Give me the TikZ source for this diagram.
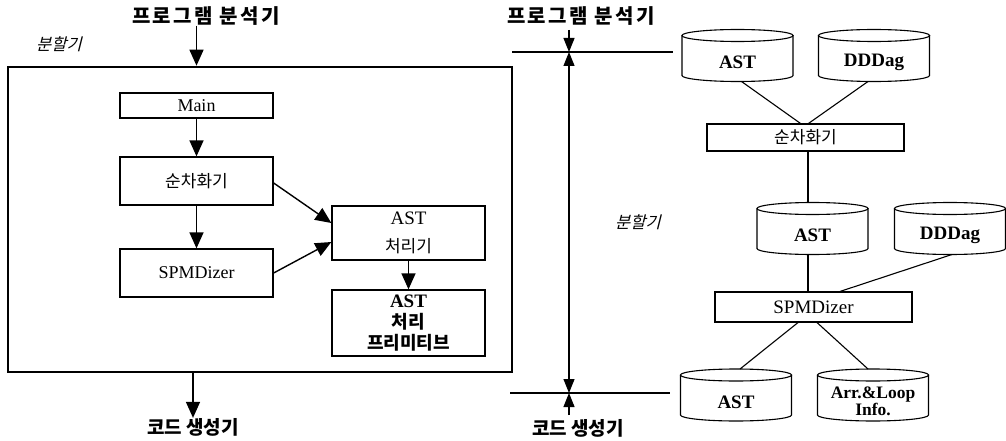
\documentclass[tikz,border=0pt]{standalone}
\usepackage{fontspec}
\setmainfont{Liberation Serif}
\newfontfamily\kr{Noto Sans CJK KR}
\newfontfamily\krsp[LetterSpace=12]{Noto Sans CJK KR}
\newfontfamily\krit[FakeSlant=0.25]{Noto Sans CJK KR}
\usetikzlibrary{arrows.meta,calc}
\newcommand\drawcyl[1]{%
  \draw[cylline] ($(#1.north west)+(0,6)$) -- ($(#1.south west)+(0,-6)$)
    arc[start angle=180,end angle=360,x radius=55.5pt,y radius=6pt]
    -- ($(#1.north east)+(0,6)$);
  \draw[cylline] ($(#1.north)+(0,6)$) ellipse[x radius=55.5pt,y radius=6pt];}
\begin{document}
\begin{tikzpicture}[x=1pt,y=-1pt,
  lbox/.style={draw,line width=1.3pt,minimum width=153pt,inner sep=0pt,align=center,
    font=\fontsize{18}{27}\selectfont},
  rbox/.style={draw,line width=1.1pt,minimum width=197pt,inner sep=0pt,align=center,
    font=\fontsize{19}{22}\selectfont},
  krt/.style={font=\fontsize{17}{20}\selectfont\kr},
  cyl/.style={minimum width=111pt,minimum height=52pt,inner sep=0pt,outer sep=0pt},
  cylline/.style={line width=1.1pt},
  dbtext/.style={inner sep=0pt,align=center,font=\fontsize{19}{15}\selectfont\bfseries},
  arr/.style={-{Triangle[length=16pt,width=14pt]},line width=1.4pt},
  dimtip/.style={-{Triangle[length=14pt,width=11pt]},line width=1.2pt},
  conn/.style={line width=1.1pt},
  lbl/.style={inner sep=0pt,font=\fontsize{20}{22}\selectfont\krsp\bfseries},
  lbl2/.style={inner sep=0pt,font=\fontsize{19}{22}\selectfont\kr\bfseries},
  itl/.style={inner sep=0pt,font=\fontsize{16.5}{18}\selectfont\krit}]
\useasboundingbox (0,0) rectangle (1006,441);

% ---------- left part ----------
\node[draw,line width=2.6pt,minimum width=504pt,minimum height=305pt,inner sep=0pt] (outer) at (260,219.5) {};
\node[lbl] (pa1) at (206,16) {프로그램 분석기};
\node[lbl2] (cg1) at (193,427) {코드 생성기};
\node[itl] (sp1) at (59,44) {분할기};

\node[lbox,minimum height=25pt] (main) at (196.5,105.5) {Main};
\node[lbox,minimum height=48pt,krt] (seqL) at (196.5,181) {순차화기};
\node[lbox,minimum height=48pt] (spmL) at (196.5,273) {SPMDizer};
\node[lbox,minimum height=54pt,font=\fontsize{19}{28}\selectfont] (astp) at (408.5,233)
  {AST\\{\kr\fontsize{17}{20}\selectfont 처리기}};
\node[lbox,minimum height=66pt,font=\fontsize{19}{21}\selectfont\bfseries] (prim) at (408.5,323)
  {AST\\{\kr\fontsize{18}{21}\selectfont 처리}\\{\kr\fontsize{18}{21}\selectfont 프리미티브}};

\draw[arr] (pa1.south -| main.center) -- (main.center |- outer.north);
\draw[arr] (cg1.north |- outer.south) -- (cg1.north);
\draw[arr] (main) -- (seqL);
\draw[arr] (seqL) -- (spmL);
\draw[arr] ([yshift=-2pt]seqL.east) -- ([yshift=10pt]astp.west);
\draw[arr] (spmL.east) -- ([yshift=-9pt]astp.west);
\draw[arr] (astp) -- (prim);

% ---------- dimension marks ----------
\node[lbl] (pa2) at (581,16) {프로그램 분석기};
\node[lbl2] (cg2) at (578,428) {코드 생성기};
\node[itl] (sp2) at (638,222) {분할기};
\coordinate (htl) at (512,52);
\coordinate (htr) at (673,52);
\coordinate (hbl) at (510,393);
\coordinate (hbr) at (670,393);
\coordinate (vt) at (569,30);
\coordinate (vtop) at (569,52);
\coordinate (vbot) at (569,393);
\coordinate (vb) at (569,415);
\draw[conn] (htl) -- (htr);
\draw[conn] (hbl) -- (hbr);
\draw[dimtip] (vt) -- (vtop);
\draw[dimtip] (vb) -- (vbot);
\draw[{Triangle[length=14pt,width=11pt]}-{Triangle[length=14pt,width=11pt]},line width=1.2pt] (vtop) -- (vbot);

% ---------- right part ----------
\node[cyl] (ast1) at (737.5,55.5) {};
\node[cyl] (dd1) at (874,55.5) {};
\node[cyl] (ast2) at (812.5,228.5) {};
\node[cyl] (dd2) at (950,228.5) {};
\node[cyl] (ast3) at (736,395) {};
\node[cyl] (arr) at (873,395) {};
\drawcyl{ast1}\drawcyl{dd1}\drawcyl{ast2}\drawcyl{dd2}\drawcyl{ast3}\drawcyl{arr}
\node[dbtext] (ast1t) at ([yshift=-7pt]ast1.center) {AST};
\node[dbtext] (dd1t) at ([yshift=-7pt]dd1.center) {DDDag};
\node[dbtext] (ast2t) at ([yshift=-7pt]ast2.center) {AST};
\node[dbtext] (dd2t) at ([yshift=-7pt]dd2.center) {DDDag};
\node[dbtext] (ast3t) at ([yshift=-7pt]ast3.center) {AST};
\node[dbtext,font=\fontsize{17.5}{15}\selectfont\bfseries] (arrt) at ([yshift=-6pt]arr.center) {Arr.\&Loop\\Info.};

\node[rbox,minimum height=27pt,krt] (seqR) at (805.5,137.5) {순차화기};
\node[rbox,minimum height=30pt] (spmR) at (813.5,307) {SPMDizer};

\draw[conn] ([xshift=4pt]ast1.south) -- ([xshift=-5pt]seqR.north);
\draw[conn] ([xshift=-6pt]dd1.south) -- ([xshift=3pt]seqR.north);
\draw[conn] ([xshift=2.5pt]seqR.south) -- ([xshift=-4.5pt]ast2.north);
\draw[conn] ([xshift=-4.5pt]ast2.south) -- ([xshift=-5.5pt]spmR.north);
\draw[conn] ([xshift=2pt]dd2.south) -- ([xshift=26.5pt]spmR.north);
\draw[conn] ([xshift=-15.5pt]spmR.south) -- ([xshift=4pt]ast3.north);
\draw[conn] ([xshift=3.5pt]spmR.south) -- ([xshift=-5pt]arr.north);
\end{tikzpicture}
\end{document}
